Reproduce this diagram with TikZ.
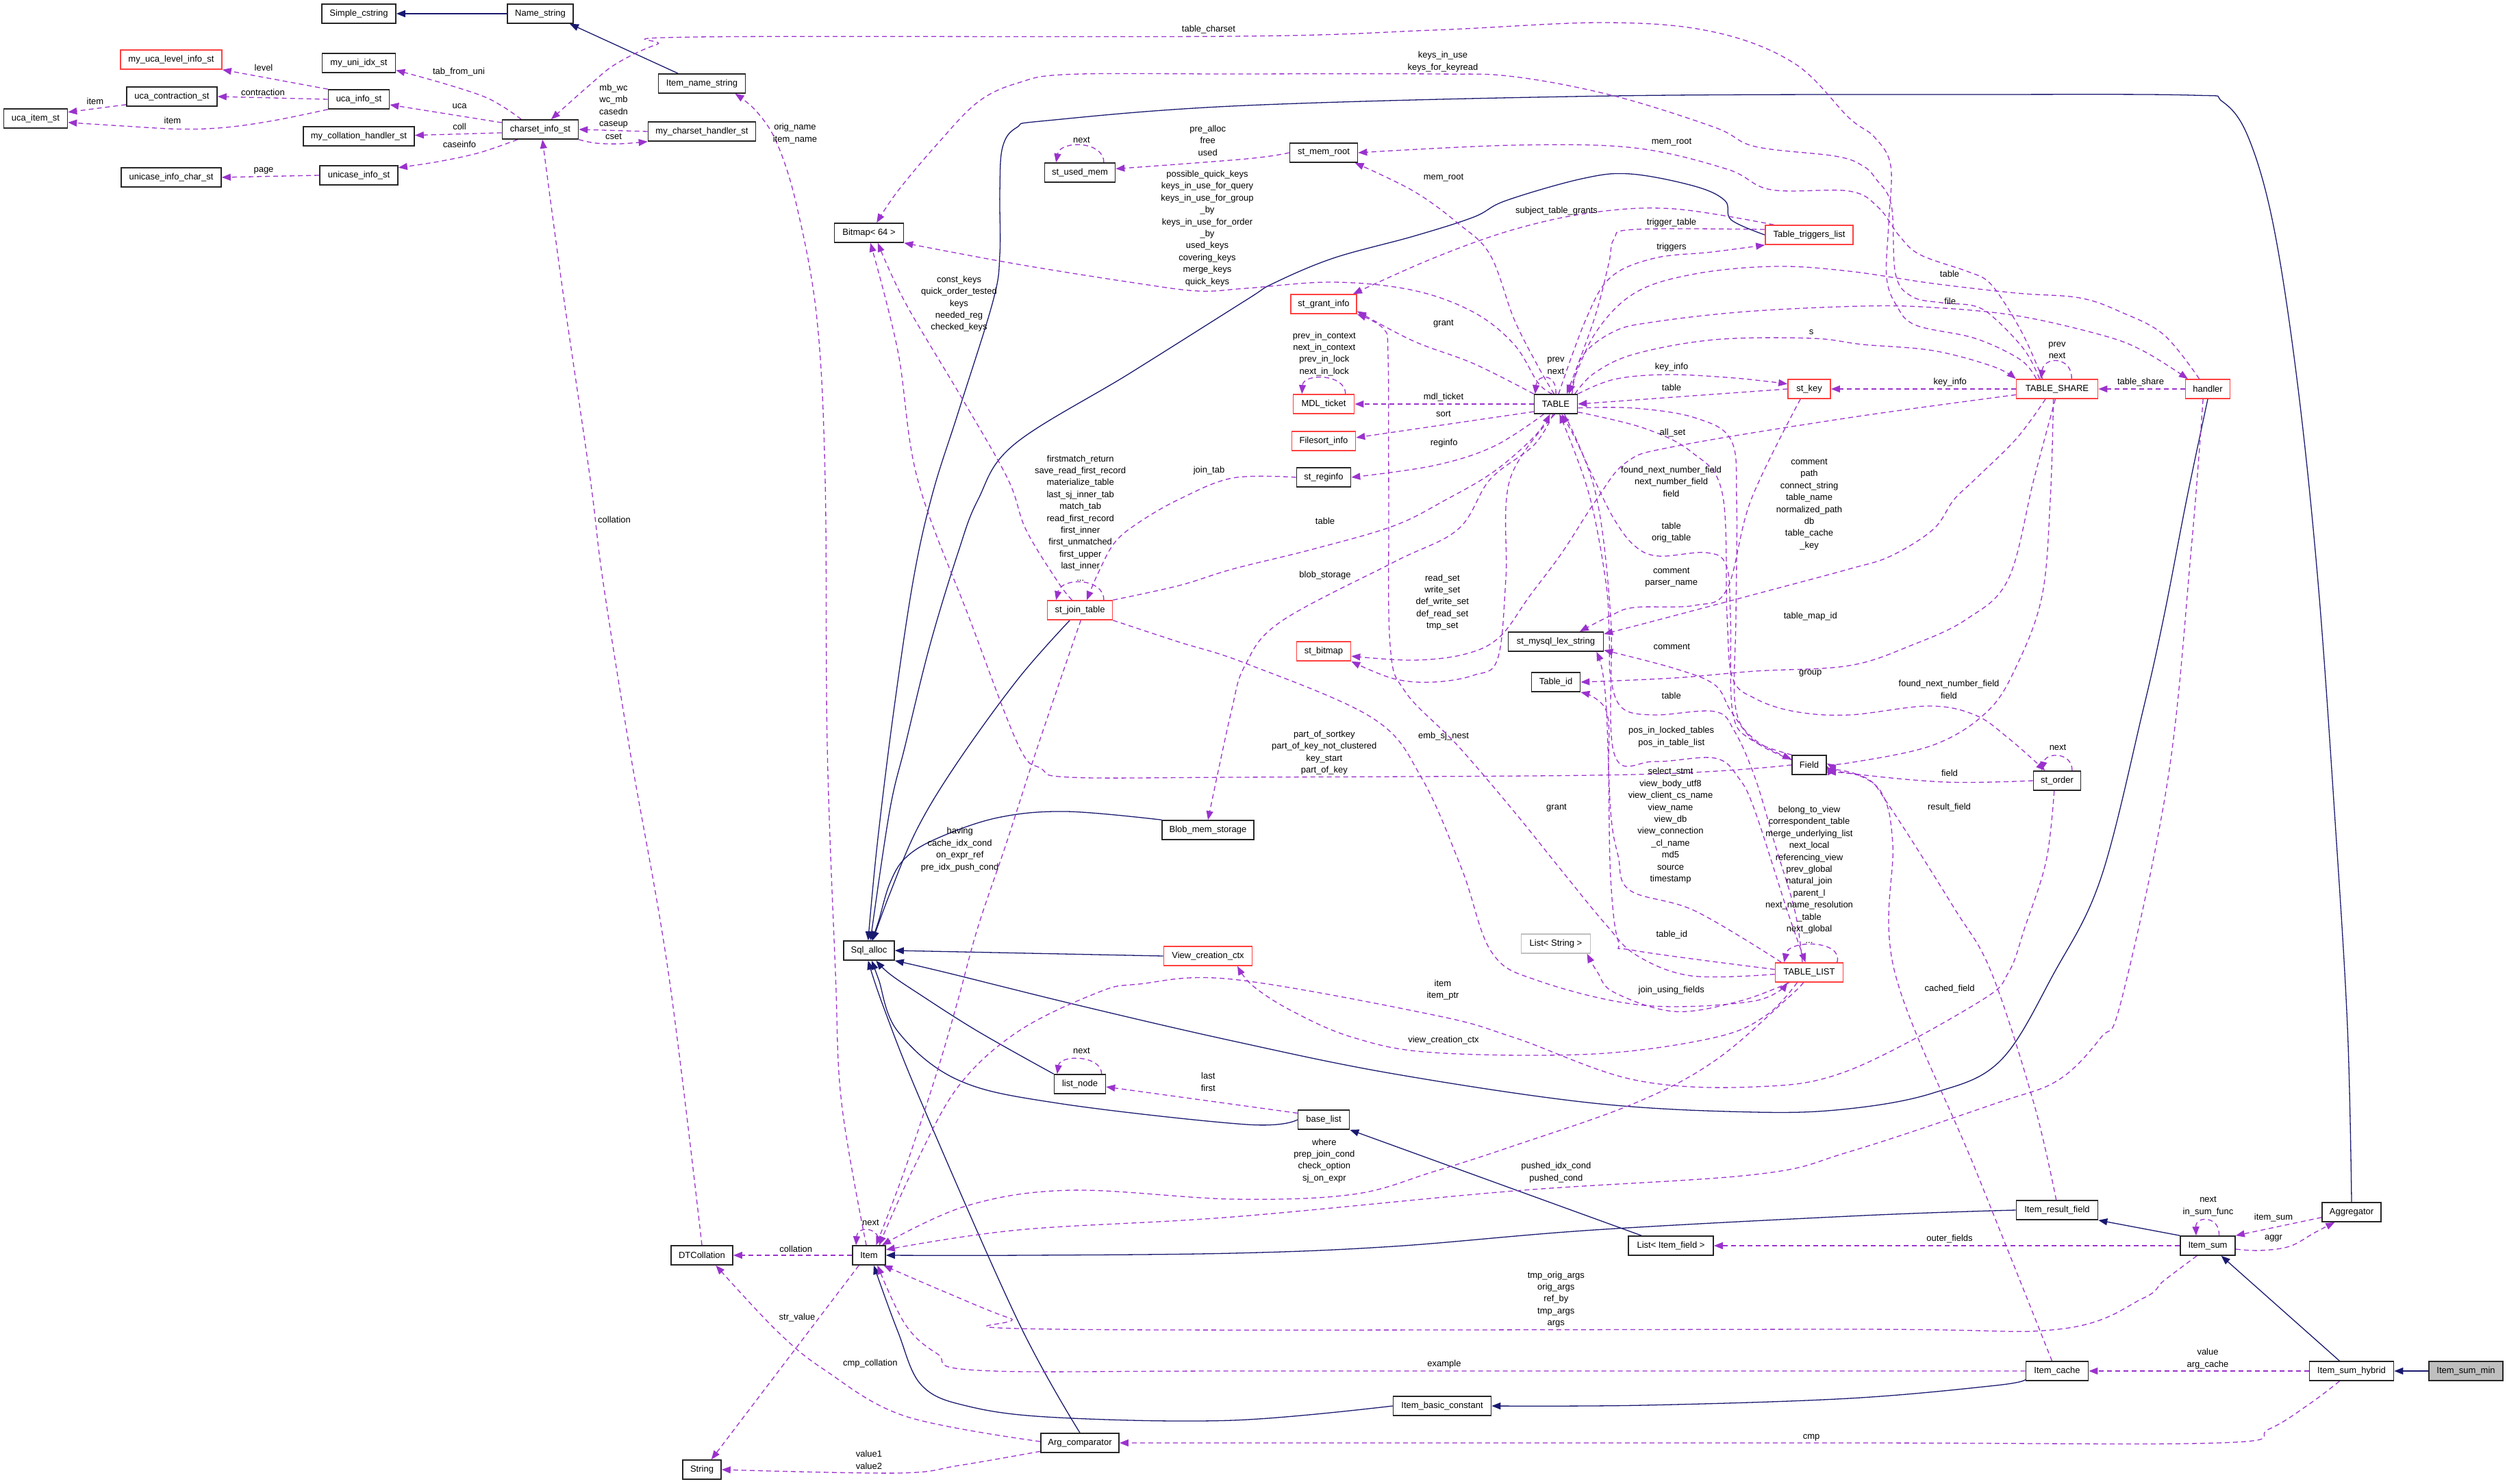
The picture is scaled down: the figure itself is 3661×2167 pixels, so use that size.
\documentclass[tikz,border=0pt]{standalone}
\usepackage{fontspec}
\setmainfont{Liberation Sans}
\usetikzlibrary{arrows.meta}
\definecolor{navy}{RGB}{25,25,112}
\definecolor{orch}{RGB}{154,50,205}
\definecolor{redb}{RGB}{255,64,64}
\definecolor{grayb}{RGB}{191,191,191}
\newcommand{\lblfont}{\fontsize{13}{17.4}\selectfont}
\pgfdeclarelayer{bg}
\pgfsetlayers{bg,main}
\begin{document}
\begin{tikzpicture}[x=1pt,y=-1pt,
 box/.style={draw=black!85, line width=1.6pt, fill=white, minimum height=28pt, inner sep=0pt, font=\lblfont},
 rbox/.style={box, draw=redb},
 gbox/.style={box, draw=grayb},
 fbox/.style={box, fill=grayb},
 inh/.style={draw=navy, line width=1.3pt, -{Triangle[length=13pt,width=10pt]}},
 use/.style={draw=orch, line width=1.3pt, dash pattern=on 7pt off 5pt, -{Triangle[length=13pt,width=10pt]}},
 lab/.style={font=\lblfont, align=center, inner sep=0pt},
 sm/.style={smooth, tension=0.6}
]
\useasboundingbox (0,0) rectangle (3661,2167);
% nodes
\node[box, minimum width=108pt] (SC) at (524,20) {Simple\_cstring};
\node[box, minimum width=96pt] (NS) at (789,20) {Name\_string};
\node[rbox, minimum width=148pt] (MULI) at (250,87) {my\_uca\_level\_info\_st};
\node[box, minimum width=107pt] (MUII) at (524,92) {my\_uni\_idx\_st};
\node[box, minimum width=132pt] (UCS) at (251,141) {uca\_contraction\_st};
\node[box, minimum width=89pt] (UIS) at (524,145) {uca\_info\_st};
\node[box, minimum width=93pt] (UITS) at (52,173) {uca\_item\_st};
\node[box, minimum width=162pt] (MCHS) at (524,199) {my\_collation\_handler\_st};
\node[box, minimum width=111pt] (CIS) at (789,189) {charset\_info\_st};
\node[box, minimum width=146pt] (UICS) at (250,259) {unicase\_info\_char\_st};
\node[box, minimum width=114pt] (UNIS) at (524,256) {unicase\_info\_st};
\node[box, minimum width=127pt] (INS) at (1025,122) {Item\_name\_string};
\node[box, minimum width=157pt] (MCH) at (1025,192) {my\_charset\_handler\_st};
\node[box, minimum width=101pt] (BM) at (1269,340) {Bitmap< 64 >};
\node[box, minimum width=103pt] (SUM) at (1577,252) {st\_used\_mem};
\node[box, minimum width=99pt] (SMR) at (1933,223) {st\_mem\_root};
\node[rbox, minimum width=128pt] (TTL) at (2642,343) {Table\_triggers\_list};
\node[rbox, minimum width=96pt] (SGI) at (1933,444) {st\_grant\_info};
\node[rbox, minimum width=89pt] (MDL) at (1933,590) {MDL\_ticket};
\node[box, minimum width=63pt] (TAB) at (2272,590) {TABLE};
\node[rbox, minimum width=93pt] (FSI) at (1933,644) {Filesort\_info};
\node[box, minimum width=79pt] (SRI) at (1933,697) {st\_reginfo};
\node[rbox, minimum width=62pt] (SK) at (2642,568) {st\_key};
\node[rbox, minimum width=119pt] (TS) at (3004,568) {TABLE\_SHARE};
\node[rbox, minimum width=65pt] (HD) at (3224,568) {handler};
\node[rbox, minimum width=95pt] (SJT) at (1577,891) {st\_join\_table};
\node[box, minimum width=134pt] (BMS) at (1764,1212) {Blob\_mem\_storage};
\node[box, minimum width=74pt] (SA) at (1269,1388) {Sql\_alloc};
\node[rbox, minimum width=129pt] (VCC) at (1764,1396) {View\_creation\_ctx};
\node[rbox, minimum width=79pt] (SB) at (1933,951) {st\_bitmap};
\node[box, minimum width=139pt] (SMLS) at (2272,937) {st\_mysql\_lex\_string};
\node[box, minimum width=71pt] (TID) at (2272,996) {Table\_id};
\node[box, minimum width=50pt] (FLD) at (2642,1117) {Field};
\node[gbox, minimum width=101pt] (LS) at (2272,1378) {List< String >};
\node[rbox, minimum width=99pt] (TL) at (2642,1420) {TABLE\_LIST};
\node[box, minimum width=69pt] (SO) at (3004,1140) {st\_order};
\node[box, minimum width=75pt] (LN) at (1577,1583) {list\_node};
\node[box, minimum width=90pt] (DTC) at (1025,1833) {DTCollation};
\node[box, minimum width=48pt] (IT) at (1269,1833) {Item};
\node[box, minimum width=114pt] (AC) at (1577,2107) {Arg\_comparator};
\node[box, minimum width=56pt] (STR) at (1025,2146) {String};
\node[box, minimum width=75pt] (BL) at (1933,1635) {base\_list};
\node[box, minimum width=124pt] (LIF) at (2440,1819) {List< Item\_field >};
\node[box, minimum width=143pt] (IBC) at (2106,2053) {Item\_basic\_constant};
\node[box, minimum width=119pt] (IRF) at (3004,1767) {Item\_result\_field};
\node[box, minimum width=86pt] (AGG) at (3434,1770) {Aggregator};
\node[box, minimum width=80pt] (IS) at (3224,1819) {Item\_sum};
\node[box, minimum width=91pt] (IC) at (3004,2002) {Item\_cache};
\node[box, minimum width=123pt] (ISH) at (3434,2002) {Item\_sum\_hybrid};
\node[fbox, minimum width=108pt] (ISM) at (3601,2002) {Item\_sum\_min};
% labels
\node[lab] at (385,99) {level};
\node[lab] at (384,135) {contraction};
\node[lab] at (139,148) {item};
\node[lab] at (252,176) {item};
\node[lab] at (670,105) {tab\_from\_uni};
\node[lab] at (671,155) {uca};
\node[lab] at (671,185) {coll};
\node[lab] at (671,211) {caseinfo};
\node[lab] at (385,249) {page};
\node[lab] at (896,155) {mb\_wc\\wc\_mb\\casedn\\caseup};
\node[lab] at (896,199) {cset};
\node[lab] at (1765,43) {table\_charset};
\node[lab] at (1161,195) {orig\_name\\item\_name};
\node[lab] at (2107,90) {keys\_in\_use\\keys\_for\_keyread};
\node[lab] at (1763,333.5) {possible\_quick\_keys\\keys\_in\_use\_for\_query\\keys\_in\_use\_for\_group\\\_by\\keys\_in\_use\_for\_order\\\_by\\used\_keys\\covering\_keys\\merge\_keys\\quick\_keys};
\node[lab] at (1400.5,443.7) {const\_keys\\quick\_order\_tested\\keys\\needed\_reg\\checked\_keys};
\node[lab] at (1579.5,204) {next};
\node[lab] at (1763.7,205) {pre\_alloc\\free\\used};
\node[lab] at (2108,260) {mem\_root};
\node[lab] at (2441,208) {mem\_root};
\node[lab] at (2273,308) {subject\_table\_grants};
\node[lab] at (2441,325) {trigger\_table};
\node[lab] at (2441,361) {triggers};
\node[lab] at (2108,473) {grant};
\node[lab] at (1933.8,516.7) {prev\_in\_context\\next\_in\_context\\prev\_in\_lock\\next\_in\_lock};
\node[lab] at (2272,534) {prev\\next};
\node[lab] at (2108,580.5) {mdl\_ticket};
\node[lab] at (2108,604) {sort};
\node[lab] at (2108.6,647.6) {reginfo};
\node[lab] at (2441,536) {key\_info};
\node[lab] at (2441,566) {table};
\node[lab] at (2645,484.6) {s};
\node[lab] at (2847.7,558) {key\_info};
\node[lab] at (2847.7,439.5) {file};
\node[lab] at (2847,399.4) {table};
\node[lab] at (3004,511.4) {prev\\next};
\node[lab] at (3126,558) {table\_share};
\node[lab] at (2442.5,631.8) {all\_set};
\node[lab] at (2440.5,703.3) {found\_next\_number\_field\\next\_number\_field\\field};
\node[lab] at (2642,736.5) {comment\\path\\connect\_string\\table\_name\\normalized\_path\\db\\table\_cache\\\_key};
\node[lab] at (1765.5,687.6) {join\_tab};
\node[lab] at (1577.7,756.3) {firstmatch\_return\\save\_read\_first\_record\\materialize\_table\\last\_sj\_inner\_tab\\match\_tab\\read\_first\_record\\first\_inner\\first\_unmatched\\first\_upper\\last\_inner\\...};
\node[lab] at (1935,760.6) {table};
\node[lab] at (1935,840) {blob\_storage};
\node[lab] at (2106.3,879.5) {read\_set\\write\_set\\def\_write\_set\\def\_read\_set\\tmp\_set};
\node[lab] at (2440.7,777.8) {table\\orig\_table};
\node[lab] at (2440.7,843.3) {comment\\parser\_name};
\node[lab] at (2643.8,899.7) {table\_map\_id};
\node[lab] at (2441.3,944.8) {comment};
\node[lab] at (2643.8,983.6) {group};
\node[lab] at (2440.7,1015.6) {table};
\node[lab] at (2846,1007) {found\_next\_number\_field\\field};
\node[lab] at (2440.7,1076) {pos\_in\_locked\_tables\\pos\_in\_table\_list};
\node[lab] at (2108,1074.7) {emb\_sj\_nest};
\node[lab] at (1933.8,1099) {part\_of\_sortkey\\part\_of\_key\_not\_clustered\\key\_start\\part\_of\_key};
\node[lab] at (3005,1091.7) {next};
\node[lab] at (2847,1128.5) {field};
\node[lab] at (2846.5,1179) {result\_field};
\node[lab] at (2273,1180) {grant};
\node[lab] at (2439.5,1205.8) {select\_stmt\\view\_body\_utf8\\view\_client\_cs\_name\\view\_name\\view\_db\\view\_connection\\\_cl\_name\\md5\\source\\timestamp};
\node[lab] at (2642,1277.4) {belong\_to\_view\\correspondent\_table\\merge\_underlying\_list\\next\_local\\referencing\_view\\prev\_global\\natural\_join\\parent\_l\\next\_name\_resolution\\\_table\\next\_global\\...};
\node[lab] at (1401.7,1240.7) {having\\cache\_idx\_cond\\on\_expr\_ref\\pre\_idx\_push\_cond};
\node[lab] at (2441.3,1364.6) {table\_id};
\node[lab] at (2440.7,1446.5) {join\_using\_fields};
\node[lab] at (2107,1445.5) {item\\item\_ptr};
\node[lab] at (2847,1444.3) {cached\_field};
\node[lab] at (2108,1519) {view\_creation\_ctx};
\node[lab] at (1579.5,1534.8) {next};
\node[lab] at (1764.3,1579.9) {last\\first};
\node[lab] at (1933.8,1694.9) {where\\prep\_join\_cond\\check\_option\\sj\_on\_expr};
\node[lab] at (2272.4,1712.3) {pushed\_idx\_cond\\pushed\_cond};
\node[lab] at (3224.5,1761.5) {next\\in\_sum\_func};
\node[lab] at (3320,1778.3) {item\_sum};
\node[lab] at (3320,1808.3) {aggr};
\node[lab] at (2847,1808.8) {outer\_fields};
\node[lab] at (1271.4,1785) {next};
\node[lab] at (1162.3,1823.5) {collation};
\node[lab] at (897,759) {collation};
\node[lab] at (2272.3,1897.5) {tmp\_orig\_args\\orig\_args\\ref\_by\\tmp\_args\\args};
\node[lab] at (1164,1924.5) {str\_value};
\node[lab] at (1270.8,1990.7) {cmp\_collation};
\node[lab] at (2109,1992.6) {example};
\node[lab] at (3224,1984) {value\\arg\_cache};
\node[lab] at (2645,2099) {cmp};
\node[lab] at (1269,2132) {value1\\value2};
\begin{pgfonlayer}{bg}
% inheritance
\draw[inh] (NS.west) -- (SC.east);
\draw[inh] (INS.157) -- (NS.-19);
\draw[inh] plot[sm] coordinates {(AGG.north) (3428,1500) (3410,1200) (3385,850) (3355,560) (3320,330) (3283,200) (3245,148) (3200,139) (2900,138) (2357,140) (1820,154) (1530,176) (1485,186) (1464,215) (1460,280) (1460,372) (1450,440) (1400,600) (1362,720) (1334,845) (1305,1039) (1281,1233) (SA.95)};
\draw[inh] plot[sm] coordinates {(TTL.west) (2528,321) (2519,293) (2475,272) (2381,254) (2310,261) (2199,293) (2152,317) (2064,345) (1947,377) (1859,414) (1820,438) (1650,545) (1481,649) (1428,730) (1399,807) (1358,942) (1322,1088) (1299,1185) (SA.82)};
\draw[inh] plot[sm] coordinates {(SJT.-135) (1487,991) (1399,1112) (1340,1209) (1299,1306) (SA.70)};
\draw[inh] plot[sm] coordinates {(BMS.north west) (1557,1185) (1457,1194) (1369,1224) (1322,1253) (1299,1291) (1283,1345) (SA.75)};
\draw[inh] (VCC.west) -- (SA.east);
\draw[inh] plot[sm] coordinates {(HD.south) (3193,730) (3160,900) (3129,1039) (3068,1282) (3000,1420) (2921,1549) (2823,1596) (2700,1619) (2563,1624) (2328,1611) (2035,1568) (1800,1520) (1575,1468) (1381,1420) (SA.south east)};
\draw[inh] plot[sm] coordinates {(LN.north west) (1428,1506) (1340,1450) (1299,1422) (SA.-55)};
\draw[inh] plot[sm] coordinates {(BL.west) (1820,1642) (1545,1611) (1399,1577) (1311,1506) (1283,1430) (SA.-75)};
\draw[inh] plot[sm] coordinates {(AC.north) (1487,1930) (1346,1611) (1290,1470) (SA.-95)};
\draw[inh] plot[sm] coordinates {(IRF.west) (2720,1775) (2328,1796) (2035,1820) (1800,1830) (1500,1833) (IT.east)};
\draw[inh] plot[sm] coordinates {(IBC.west) (1800,2074) (1545,2070) (1416,2054) (1346,2023) (1311,1944) (IT.-65)};
\draw[inh] plot[sm] coordinates {(IC.195) (2915,2023) (2700,2042) (2400,2052) (IBC.east)};
\draw[inh] (IS.north west) -- (IRF.south east);
\draw[inh] (ISH.140) -- (IS.-37);
\draw[inh] (ISM.west) -- (ISH.east);
\draw[inh] (LIF.161) -- (BL.south east);
% usage
\draw[use] (UIS.north west) -- (MULI.south east);
\draw[use] (UIS.west) -- (UCS.east);
\draw[use] (UCS.190) -- (UITS.11);
\draw[use] plot[sm] coordinates {(UIS.south west) (400,176) (330,186) (264,188.5) (180,184) (UITS.-7)};
\draw[use] plot[sm] coordinates {(CIS.152) (735,156) (704,140) (645,121) (MUII.-11)};
\draw[use] (CIS.170) -- (UIS.-10);
\draw[use] (CIS.185) -- (MCHS.1);
\draw[use] plot[sm] coordinates {(CIS.-156) (700,223) (640,236) (UNIS.11)};
\draw[use] (UNIS.west) -- (UICS.east);
\draw[use] (MCH.west) -- (CIS.east);
\draw[use] plot[sm] coordinates {(CIS.south east) (870,209) (905,210) (MCH.south west)};
\draw[use] plot[sm] coordinates {(TS.154) (2950,525) (2884,494) (2798,475) (2770,447) (2755,405) (2758,326) (2761,242) (2737,200) (2700,172) (2621,93) (2504,47) (2346,33) (2093,44) (1800,53) (1017,54) (959,65) (900,93) (860,125) (CIS.43)};
\draw[use] plot[sm] coordinates {(TS.150) (2957,512) (2914,466) (2884,447) (2835,442) (2792,433) (2768,400) (2762,300) (2740,262) (2720,242) (2680,228) (2563,214) (2504,186) (2357,140) (2211,112) (2093,108) (1800,108) (1563,108.5) (1487,121) (1428,149) (1369,210) (1311,279) (BM.53)};
\draw[use] plot[sm] coordinates {(TAB.110) (2246,559) (2211,503) (2152,456) (2064,424) (1947,412) (1820,421) (1751,425) (1663,414) (1487,386) (BM.south east)};
\draw[use] plot[sm] coordinates {(SJT.128) (1545,850) (1498,773) (1472,700) (1405,582) (1322,442) (BM.-49)};
\draw[use] plot[sm] coordinates {(FLD.west) (2387,1131) (1800,1135) (1563,1135) (1520,1122) (1487,1088) (1416,904) (1340,700) (1311,512) (BM.-82)};
\draw[use] plot[sm] coordinates {(TS.145) (2957,494) (2927,442) (2902,410) (2872,396) (2804,372) (2774,345) (2743,303) (2700,279) (2586,277) (2522,247) (2387,216) (2211,212) (SMR.east)};
\draw[use] plot[sm] coordinates {(TAB.100) (2246,535) (2211,466) (2176,372) (2129,326) (2064,279) (SMR.-18)};
\draw[use] plot[sm] coordinates {(SMR.west) (1820,232) (SUM.6)};
\draw[use] (SUM.23) .. controls (1612,205) and (1548,205) .. (SUM.157);
\draw[use] plot[sm] coordinates {(TAB.75) (2316,466) (2352,405) (2416,377) (2500,368) (TTL.south west)};
\draw[use] plot[sm] coordinates {(TTL.173) (2387,335) (2357,349) (2349,386) (2328,466) (TAB.43)};
\draw[use] plot[sm] coordinates {(TTL.164) (2445,305) (2328,310) (2211,335) (2093,377) (SGI.19)};
\draw[use] plot[sm] coordinates {(TAB.north west) (2152,531) (2064,498) (SGI.-12)};
\draw[use] plot[sm] coordinates {(TL.183) (2470,1425) (2390,1395) (2345,1350) (2281,1272) (2211,1185) (2128,1088) (2052,1010) (2030,942) (2028,730) (2027,520) (2020,480) (SGI.south east)};
\draw[use] (MDL.25) .. controls (1965,545) and (1903,545) .. (MDL.155);
\draw[use] (TAB.west) -- (MDL.east);
\draw[use] (TAB.199) -- (FSI.6);
\draw[use] plot[sm] coordinates {(TAB.-140) (2181,652) (2093,680) (SRI.east)};
\draw[use] plot[sm] coordinates {(SRI.west) (1800,698) (1722,729) (1663,763) (1628,792) (1604,836) (SJT.56)};
\draw[use] (SJT.23) .. controls (1612,843) and (1550,843) .. (SJT.157);
\draw[use] plot[sm] coordinates {(SJT.north east) (1722,855) (1800,831) (1917,802) (2035,768) (2111,730) (2181,689) (2240,638) (TAB.-120)};
\draw[use] plot[sm] coordinates {(TAB.-105) (2240,650) (2176,700) (2129,773) (2035,821) (1870,908) (1818,972) (1798,1039) (BMS.north)};
\draw[use] plot[sm] coordinates {(TAB.-95) (2205,700) (2199,845) (2187,962) (2152,986) (2093,996) (2035,991) (SB.south east)};
\draw[use] plot[sm] coordinates {(TS.188) (2700,610) (2445,652) (2375,675) (2331,730) (2281,807) (2234,870) (2190,930) (2140,955) (2064,964) (SB.-10)};
\draw[use] (TS.west) -- (SK.east);
\draw[use] plot[sm] coordinates {(TAB.north east) (2357,554) (2434,547) (2533,552) (SK.167)};
\draw[use] (SK.west) -- (TAB.east);
\draw[use] plot[sm] coordinates {(TAB.28) (2328,545) (2387,517) (2504,496) (2645,494) (2720,503) (2823,512) (2910,535) (TS.north west)};
\draw[use] plot[sm] coordinates {(TAB.32) (2310,521) (2357,484) (2416,470) (2550,455) (2720,447) (2823,449) (2945,461) (3068,489) (3129,512) (HD.153)};
\draw[use] plot[sm] coordinates {(HD.130) (3160,489) (3098,456) (3037,435) (2945,428) (2823,414) (2700,396) (2592,389) (2475,400) (2387,428) (2328,489) (TAB.38)};
\draw[use] (HD.west) -- (TS.east);
\draw[use] (TS.35) .. controls (3026,520) and (2985,520) .. (TS.148);
\draw[use] (TAB.90) .. controls (2274,545) and (2245,545) .. (TAB.154);
\draw[use] plot[sm] coordinates {(TS.-110) (2994,730) (2982,870) (2945,972) (2902,1039) (2823,1088) (2700,1114) (FLD.5)};
\draw[use] plot[sm] coordinates {(FLD.north west) (2557,1080) (2530,1039) (2527,900) (2521,826) (2492,807) (2422,812) (2387,797) (2357,758) (2328,700) (2300,640) (TAB.-60)};
\draw[use] plot[sm] coordinates {(TAB.-10) (2387,596) (2475,610) (2528,643) (2536,730) (2535,900) (2534,1030) (2560,1078) (FLD.162)};
\draw[use] plot[sm] coordinates {(TS.-139) (2945,640) (2884,700) (2853,730) (2823,773) (2761,812) (2700,831) (2592,860) (2445,899) (SMLS.9)};
\draw[use] plot[sm] coordinates {(TS.-100) (2970,700) (2933,845) (2872,904) (2792,942) (2700,972) (2563,980) (2445,990) (TID.east)};
\draw[use] plot[sm] coordinates {(FLD.164) (2563,1083) (2528,1039) (2504,1000) (2445,976) (SMLS.-10)};
\draw[use] plot[sm] coordinates {(SK.-131) (2557,730) (2522,860) (2475,884) (2387,887) (2352,899) (SMLS.23)};
\draw[use] plot[sm] coordinates {(TL.124) (2621,1330) (2592,1233) (2563,1136) (2533,1068) (2504,1039) (2416,1044) (2369,1034) (2352,990) (2350,930) (2345,850) (2320,720) (TAB.-70)};
\draw[use] plot[sm] coordinates {(TAB.-50) (2330,720) (2352,900) (2357,1100) (2416,1112) (2504,1107) (2539,1136) (2563,1185) (2610,1330) (TL.110)};
\draw[use] plot[sm] coordinates {(TL.160) (2475,1330) (2380,1300) (2363,1250) (2352,1185) (2346,1039) (2340,980) (SMLS.-14)};
\draw[use] plot[sm] coordinates {(TL.175) (2387,1388) (2363,1374) (2352,1282) (2349,1136) (2346,1039) (TID.south east)};
\draw[use] plot[sm] coordinates {(TL.-153) (2540,1462) (2445,1477) (2357,1449) (2333,1420) (LS.-18)};
\draw[use] plot[sm] coordinates {(TL.-140) (2580,1482) (2504,1515) (2328,1539) (2093,1537) (1976,1515) (1888,1477) (1830,1440) (VCC.-19)};
\draw[use] plot[sm] coordinates {(TL.-120) (2610,1458) (2504,1549) (2387,1611) (2211,1673) (2093,1711) (1976,1744) (1800,1751) (1563,1738) (1411,1761) (IT.38)};
\draw[use] plot[sm] coordinates {(SJT.south east) (1720,937) (1820,969) (2005,1049) (2076,1136) (2135,1270) (2178,1390) (2246,1432) (2400,1468) (2560,1462) (TL.-155)};
\draw[use] (TL.20) .. controls (2692,1372) and (2612,1372) .. (TL.158);
\draw[use] plot[sm] coordinates {(SO.-106) (2988,1257) (2957,1354) (2933,1420) (2890,1463) (2700,1563) (2563,1587) (2387,1577) (2211,1515) (2093,1482) (1800,1430) (1663,1437) (1604,1449) (1487,1506) (1399,1587) (1334,1706) (IT.45)};
\draw[use] plot[sm] coordinates {(SJT.-85) (1516,1088) (1469,1233) (1428,1354) (1399,1460) (1369,1563) (1322,1706) (IT.55)};
\draw[use] plot[sm] coordinates {(IT.105) (1229,1611) (1220,1420) (1208,1088) (1205,700) (1193,466) (1164,303) (1135,210) (1105,163) (INS.-17)};
\draw[use] plot[sm] coordinates {(DTC.north) (976,1420) (920,1097) (880,845) (862,700) (821,419) (CIS.-78)};
\draw[use] (IT.west) -- (DTC.east);
\draw[use] (IT.-135) -- (STR.47);
\draw[use] plot[sm] coordinates {(AC.178) (1322,2068) (1205,2001) (1135,1944) (DTC.-36)};
\draw[use] plot[sm] coordinates {(AC.192) (1400,2140) (1311,2151) (STR.east)};
\draw[use] plot[sm] coordinates {(ISH.-140) (3374,2049) (3313,2087) (3239,2107) (2700,2107) (AC.east)};
\draw[use] plot[sm] coordinates {(IS.-137) (3160,1870) (3129,1896) (3006,1941) (2700,1941) (1545,1941) (1475,1925) (1381,1887) (IT.-35)};
\draw[use] plot[sm] coordinates {(IC.west) (2700,2002) (1820,2002) (1428,2001) (1369,1977) (1322,1934) (IT.-50)};
\draw[use] (ISH.west) -- (IC.east);
\draw[use] (IS.west) -- (LIF.east);
\draw[use] (IS.42) .. controls (3242,1775) and (3206,1775) .. (IS.139);
\draw[use] (AGG.190) -- (IS.north east);
\draw[use] plot[sm] coordinates {(IS.-7) (3300,1826) (3343.5,1820) (3380,1800) (AGG.-149)};
\draw[use] plot[sm] coordinates {(IRF.95) (2970,1611) (2908,1420) (2853,1325) (2761,1180) (2725,1136) (FLD.-22)};
\draw[use] plot[sm] coordinates {(IC.117) (2884,1706) (2767,1420) (2764,1233) (2749,1160) (2712,1131) (FLD.-12)};
\draw[use] plot[sm] coordinates {(SO.west) (2841,1142) (2700,1129) (FLD.-3)};
\draw[use] (SO.34) .. controls (3026,1098) and (2988,1098) .. (SO.147);
\draw[use] plot[sm] coordinates {(TAB.-20) (2400,625) (2470,660) (2515,720) (2522,900) (2530,990) (2563,1020) (2621,1039) (2700,1044) (2816,1031) (2884,1044) (2933,1078) (SO.140)};
\draw[use] plot[sm] coordinates {(HD.-115) (3200,800) (3166,1136) (3098,1460) (3068,1515) (3006,1577) (2915,1611) (2700,1682) (2563,1715) (2211,1739) (1800,1777) (1487,1796) (IT.18)};
\draw[use] (BL.166) -- (LN.-6);
\draw[use] (LN.25) .. controls (1608,1540) and (1548,1540) .. (LN.156);
\draw[use] (IT.43) .. controls (1285,1790) and (1252,1790) .. (IT.142);
\end{pgfonlayer}
\end{tikzpicture}
\end{document}
